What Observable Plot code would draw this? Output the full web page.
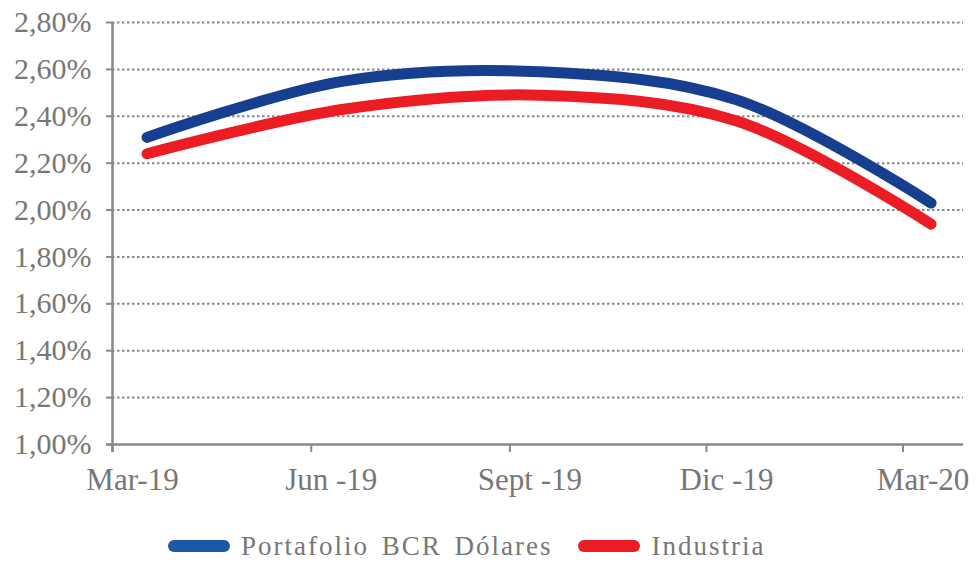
<!DOCTYPE html>
<html><head><meta charset="utf-8">
<script src="https://cdn.jsdelivr.net/npm/d3@7"></script>
<script src="https://cdn.jsdelivr.net/npm/@observablehq/plot@0.6"></script>
<style>
body{margin:0;background:#fff;overflow:hidden;}
#chart svg{display:block;}
#legend{display:flex;align-items:center;padding-left:168px;margin-top:32px;height:28px;font-family:"Liberation Serif",serif;font-size:27px;letter-spacing:2px;word-spacing:4px;color:#777;line-height:28px;}
.sw{display:inline-block;width:62px;height:12px;border-radius:6px;margin-right:11px;}
.item{display:flex;align-items:center;margin-right:26px;}
</style></head>
<body><div id="chart"></div>
<script>
const dates = ["2019-03-17","2019-06-16","2019-09-15","2019-12-15","2020-03-14"];
const portafolio = [2.31, 2.55, 2.59, 2.47, 2.03];
const industria = [2.24, 2.43, 2.49, 2.38, 1.94];
const tickDates = ["2019-03-01","2019-06-01","2019-09-01","2019-12-01","2020-03-01"];
const tickLabels = ["Mar-19","Jun -19","Sept -19","Dic -19","Mar-20"];
const yTicks = [1.0,1.2,1.4,1.6,1.8,2.0,2.2,2.4,2.6,2.8];
const seriesNames = ["Portafolio BCR Dólares","Industria"];
const seriesColors = ["#173f8f","#ec1c24"];
const legendColors = ["#1c58a6","#ec1c24"];

const data = [];
dates.forEach((d,i)=>{
  data.push({date:new Date(d), value:portafolio[i], serie:seriesNames[0]});
  data.push({date:new Date(d), value:industria[i], serie:seriesNames[1]});
});
const ticks = tickDates.map((d,i)=>({date:new Date(d), label:tickLabels[i]}));

const chart = Plot.plot({
  width: 977, height: 500,
  marginLeft: 112, marginRight: 14, marginTop: 22, marginBottom: 56,
  style: {fontFamily: "'Liberation Serif', serif", fontSize: "30px", color: "#777", background: "#fff"},
  x: {type: "utc", domain: [new Date("2019-03-01"), new Date("2020-03-29")]},
  y: {domain: [1, 2.8]},
  color: {domain: seriesNames, range: seriesColors},
  marks: [
    Plot.gridY({ticks: yTicks.filter(d => d > 1), stroke: "#888", strokeOpacity: 1, strokeWidth: 2, strokeDasharray: "2.5,2.5"}),
    Plot.axisY({ticks: yTicks, label: null, tickSize: 6, tickPadding: 15, tickFormat: d => d.toFixed(2).replace(".", ",") + "%", stroke: "#888", strokeWidth: 2, fill: "#777", fontSize: 30}),
    Plot.ruleY([1], {stroke: "#888", strokeWidth: 2.5, insetLeft: -6}),
    Plot.ruleX([new Date("2019-03-01")], {stroke: "#888", strokeWidth: 2.5, insetBottom: -8}),
    Plot.axisX({ticks: ticks.map(d => d.date), label: null, tickSize: 8, tickFormat: () => "", stroke: "#888", strokeWidth: 2}),
    Plot.text(ticks, {x: "date", y: () => 1, text: "label", dx: 20, dy: 36, fill: "#777", fontSize: 31, lineAnchor: "middle"}),
    Plot.line(data, {x: "date", y: "value", z: "serie", stroke: "serie", strokeWidth: 11, curve: "catmull-rom", strokeLinecap: "round", strokeLinejoin: "round"})
  ]
});
document.getElementById("chart").appendChild(chart);

const legend = document.createElement("div");
legend.id = "legend";
seriesNames.forEach((n,i)=>{
  const it = document.createElement("div"); it.className = "item";
  const sw = document.createElement("span"); sw.className = "sw"; sw.style.background = legendColors[i];
  const t = document.createElement("span"); t.textContent = n;
  it.appendChild(sw); it.appendChild(t); legend.appendChild(it);
});
document.body.appendChild(legend);
</script></body></html>
